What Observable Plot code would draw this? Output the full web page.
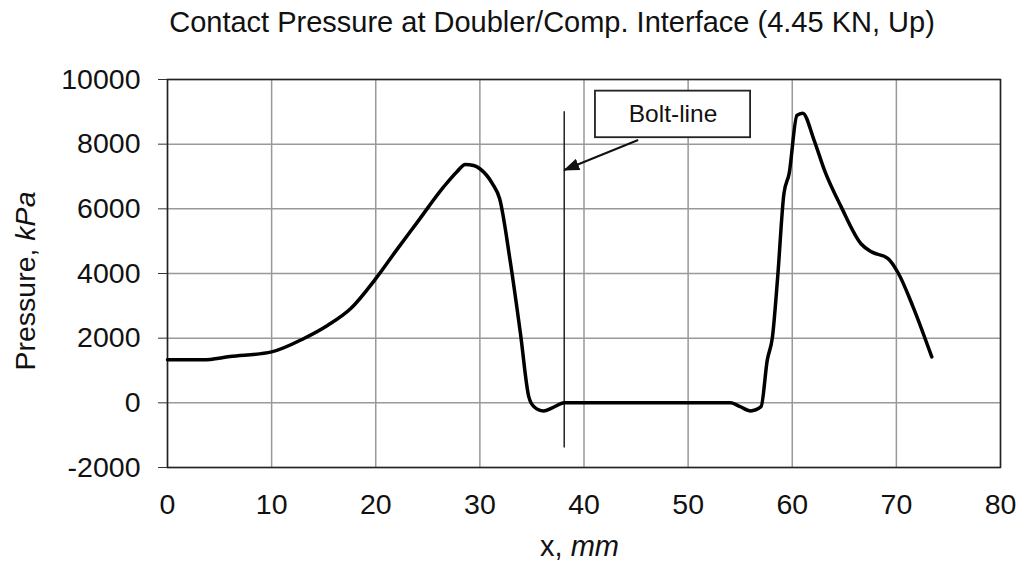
<!DOCTYPE html>
<html>
<head>
<meta charset="utf-8">
<script src="https://cdn.jsdelivr.net/npm/d3@7"></script>
<script src="https://cdn.jsdelivr.net/npm/@observablehq/plot@0.6"></script>
<style>
  html, body { margin: 0; padding: 0; background: #fff; }
  svg { display: block; }
</style>
</head>
<body>
<div id="chart"></div>
<script>
// ---- data ----
const titleText = "Contact Pressure at Doubler/Comp. Interface (4.45 KN, Up)";
const xValues = [0, 3.4, 6, 10, 13.1, 15.4, 17.6, 20, 22.1, 24, 26.5, 27.8, 28.6, 29.4, 30, 31.2, 31.9, 32.9, 33.9, 34.7, 35.2, 36.1, 37.0, 38.1, 54.1, 55.0, 56.0, 57.0, 57.6, 58.1, 58.6, 59.2, 59.7, 60.45, 61.0, 62.1, 63.1, 64.7, 66.6, 67.6, 69.2, 70.2, 71.6, 73.4];
const pressure = [1330, 1330, 1430, 1575, 1990, 2400, 2915, 3840, 4770, 5590, 6670, 7150, 7375, 7340, 7240, 6780, 6310, 4410, 2140, 185, -120, -250, -150, 0, 0, -120, -250, -120, 1320, 2040, 3890, 6470, 7090, 8890, 8960, 8120, 7190, 6060, 4920, 4670, 4460, 4000, 2970, 1420];
const xTicks = [0, 10, 20, 30, 40, 50, 60, 70, 80];
const yTicks = [-2000, 0, 2000, 4000, 6000, 8000, 10000];
const boltX = [38.1];
const boltSpan = [-1400, 9000];
const boltLabel = ["Bolt-line"];
const boltBox = [{x1: 41.1, x2: 56.0, y1: 8200, y2: 9640}];
const boltArrow = [{x1: 45.2, y1: 8130, x2: 38.1, y2: 7200}];

const data = xValues.map((x, i) => ({x, p: pressure[i]}));
const font = "Liberation Sans, Arial, Helvetica, sans-serif";

const plot = Plot.plot({
  width: 1024,
  height: 563,
  marginLeft: 167,
  marginRight: 24,
  marginTop: 79,
  marginBottom: 96,
  style: {fontFamily: font, fontSize: "28px", color: "#111", background: "#fff"},
  x: {domain: [0, 80], ticks: xTicks},
  y: {domain: [-2000, 10000], ticks: yTicks},
  marks: [
    Plot.gridX(xTicks, {stroke: "#999", strokeOpacity: 1, strokeWidth: 1.5}),
    Plot.gridY(yTicks, {stroke: "#999", strokeOpacity: 1, strokeWidth: 1.5}),
    Plot.frame({stroke: "#222", strokeWidth: 1.5}),
    Plot.axisY(yTicks, {tickSize: 9, tickPadding: 18, fontSize: 28.5, label: null, stroke: "#333", tickFormat: d => String(d)}),
    Plot.axisX(xTicks, {tickSize: 0, tickPadding: 26, fontSize: 28.5, label: null, tickFormat: d => String(d)}),
    Plot.ruleX(boltX, {y1: boltSpan[0], y2: boltSpan[1], stroke: "#222", strokeWidth: 1.5}),
    Plot.line(data, {x: "x", y: "p", stroke: "#000", strokeWidth: 3.5, strokeLinejoin: "round", curve: "monotone-x"}),
    Plot.link(boltArrow, {x1: "x1", y1: "y1", x2: "x2", y2: "y2", stroke: "#111", strokeWidth: 2}),
    Plot.rect(boltBox, {x1: "x1", x2: "x2", y1: "y1", y2: "y2", fill: "#fff", stroke: "#222", strokeWidth: 1.8}),
    Plot.text(boltLabel, {x: (boltBox[0].x1 + boltBox[0].x2) / 2, y: (boltBox[0].y1 + boltBox[0].y2) / 2, text: d => d, fontSize: 24.5, fill: "#111"}),
    Plot.text([titleText], {frameAnchor: "top", lineAnchor: "middle", dx: -32, dy: -57, text: d => d, fontSize: 29, fill: "#111"})
  ]
});

document.getElementById("chart").appendChild(plot);

const svg = d3.select(plot);

// filled arrow head for the bolt-line pointer
const defs = svg.insert("defs", ":first-child");
defs.append("marker")
  .attr("id", "bolt-head")
  .attr("markerUnits", "userSpaceOnUse")
  .attr("viewBox", "0 0 16 12")
  .attr("refX", 15).attr("refY", 6)
  .attr("markerWidth", 16).attr("markerHeight", 12)
  .attr("orient", "auto")
  .append("path").attr("d", "M0,0 L16,6 L0,12 Z").attr("fill", "#111");
svg.selectAll('g[aria-label="link"] path, g[aria-label="link"] line')
  .attr("marker-end", "url(#bolt-head)");

// axis labels with italic units
const xs = plot.scale("x"), ys = plot.scale("y");
const cx = (xs.apply(0) + xs.apply(80)) / 2;
const cy = (ys.apply(-2000) + ys.apply(10000)) / 2;

const xl = svg.append("text")
  .attr("x", cx - 4).attr("y", 547)
  .attr("text-anchor", "middle").attr("dy", "0.32em")
  .attr("font-family", font).attr("font-size", 29).attr("fill", "#111");
xl.append("tspan").text("x, ");
xl.append("tspan").attr("font-style", "italic").text("mm");

const yl = svg.append("text")
  .attr("transform", `translate(26,${cy + 8}) rotate(-90)`)
  .attr("text-anchor", "middle").attr("dy", "0.32em")
  .attr("font-family", font).attr("font-size", 28.5).attr("fill", "#111");
yl.append("tspan").text("Pressure, ");
yl.append("tspan").attr("font-style", "italic").text("kPa");
</script>
</body>
</html>
